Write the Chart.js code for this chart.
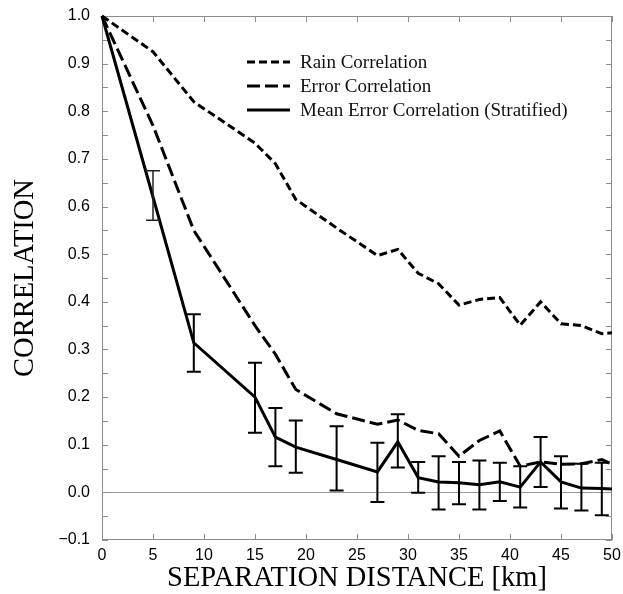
<!DOCTYPE html>
<html>
<head>
<meta charset="utf-8">
<script src="https://cdn.jsdelivr.net/npm/chart.js@4/dist/chart.umd.min.js"></script>
<style>
  html, body { margin: 0; padding: 0; background: #fff; }
  #wrap { width: 623px; height: 594px; }
</style>
</head>
<body>
<div id="wrap"><canvas id="c" width="623" height="594"></canvas></div>
<script>
// ---- data ----
const distances = [0, 5, 9, 15, 17, 19, 23, 27, 29, 31, 33, 35, 37, 39, 41, 43, 45, 47, 49, 50];
const rainCorrelation = [1.0, 0.925, 0.82, 0.733, 0.69, 0.615, 0.555, 0.497, 0.51, 0.46, 0.438, 0.393, 0.405, 0.409, 0.351, 0.40, 0.354, 0.35, 0.333, 0.335];
const errorCorrelation = [1.0, 0.77, 0.55, 0.35, 0.29, 0.216, 0.165, 0.143, 0.152, 0.130, 0.123, 0.076, 0.109, 0.129, 0.055, 0.064, 0.059, 0.060, 0.069, 0.059];
const meanErrorCorrelation = [1.0, 0.62, 0.314, 0.200, 0.116, 0.095, 0.069, 0.043, 0.106, 0.031, 0.022, 0.020, 0.016, 0.022, 0.011, 0.064, 0.022, 0.009, 0.008, 0.007];
const meanErrorLow = [null, 0.571, 0.253, 0.125, 0.055, 0.041, 0.004, -0.020, 0.052, -0.001, -0.036, -0.025, -0.036, -0.018, -0.032, 0.011, -0.034, -0.038, -0.048, null];
const meanErrorHigh = [null, 0.675, 0.374, 0.272, 0.177, 0.151, 0.139, 0.104, 0.164, 0.064, 0.076, 0.064, 0.067, 0.062, 0.055, 0.116, 0.076, 0.060, 0.062, null];
const seriesLabels = ['Rain Correlation', 'Error Correlation', 'Mean Error Correlation (Stratified)'];
const xTitle = 'SEPARATION DISTANCE [km]';
const yTitle = 'CORRELATION';

const SANS = "'Liberation Sans', Arial, Helvetica, sans-serif";
const SERIF = "'Liberation Serif', 'Times New Roman', Times, serif";
const FRAME = '#8c8c8c';

function pts(values) { return distances.map((d, i) => ({ x: d, y: values[i] })); }

// frame + inward ticks
const framePlugin = {
  id: 'frame',
  beforeDatasetsDraw(chart) {
    const { ctx, chartArea: a, scales } = chart;
    ctx.save();
    ctx.strokeStyle = FRAME;
    ctx.lineWidth = 1;
    ctx.strokeRect(a.left + 0.5, a.top + 0.5, a.right - a.left - 1, a.bottom - a.top - 1);
    const L = 6;
    ctx.beginPath();
    scales.x.ticks.forEach(t => {
      const px = Math.round(scales.x.getPixelForValue(t.value)) + 0.5;
      ctx.moveTo(px, a.bottom); ctx.lineTo(px, a.bottom - L);
      ctx.moveTo(px, a.top); ctx.lineTo(px, a.top + L);
    });
    const yt = scales.y.ticks.map(t => t.value);
    const yvals = [];
    yt.forEach((v, i) => { yvals.push(v); if (i < yt.length - 1) yvals.push((v + yt[i + 1]) / 2); });
    yvals.forEach(v => {
      const py = Math.round(scales.y.getPixelForValue(v)) + 0.5;
      ctx.moveTo(a.left, py); ctx.lineTo(a.left + L, py);
      ctx.moveTo(a.right, py); ctx.lineTo(a.right - L, py);
    });
    ctx.stroke();
    ctx.restore();
  }
};

// error bars on the mean series
const errorBarPlugin = {
  id: 'errorBars',
  afterDatasetsDraw(chart) {
    const { ctx, scales } = chart;
    ctx.save();
    distances.forEach((d, i) => {
      if (meanErrorLow[i] == null || meanErrorHigh[i] == null) return;
      const x = scales.x.getPixelForValue(d);
      const y1 = scales.y.getPixelForValue(meanErrorLow[i]);
      const y2 = scales.y.getPixelForValue(meanErrorHigh[i]);
      ctx.lineWidth = i === 1 ? 1.5 : 2;
      ctx.strokeStyle = i === 1 ? '#222' : '#000';
      const w = 7;
      ctx.beginPath();
      ctx.moveTo(x, y1); ctx.lineTo(x, y2);
      ctx.moveTo(x - w, y1); ctx.lineTo(x + w, y1);
      ctx.moveTo(x - w, y2); ctx.lineTo(x + w, y2);
      ctx.stroke();
    });
    ctx.restore();
  }
};

// legend inside plot area
const innerLegend = {
  id: 'innerLegend',
  afterDatasetsDraw(chart) {
    const { ctx } = chart;
    const x0 = 247, x1 = 290, tx = 300, y0 = 62, dy = 24;
    ctx.save();
    ctx.font = '19px ' + SERIF;
    ctx.textBaseline = 'middle';
    ctx.textAlign = 'left';
    chart.data.datasets.forEach((ds, i) => {
      const y = y0 + i * dy;
      ctx.strokeStyle = ds.borderColor;
      ctx.lineWidth = ds.borderWidth;
      ctx.setLineDash(ds.borderDash || []);
      ctx.beginPath();
      ctx.moveTo(x0, y); ctx.lineTo(x1, y);
      ctx.stroke();
      ctx.setLineDash([]);
      ctx.fillStyle = '#111';
      ctx.fillText(ds.label, tx, y + 1);
    });
    ctx.restore();
  }
};

new Chart(document.getElementById('c'), {
  type: 'line',
  data: {
    datasets: [
      { label: seriesLabels[0], data: pts(rainCorrelation), borderColor: '#000', borderWidth: 3, borderDash: [8, 4], pointRadius: 0, fill: false, tension: 0, clip: 4 },
      { label: seriesLabels[1], data: pts(errorCorrelation), borderColor: '#000', borderWidth: 3, borderDash: [13, 5], pointRadius: 0, fill: false, tension: 0, clip: 4 },
      { label: seriesLabels[2], data: pts(meanErrorCorrelation), borderColor: '#000', borderWidth: 3, pointRadius: 0, fill: false, tension: 0, clip: 4 }
    ]
  },
  options: {
    responsive: false,
    animation: false,
    devicePixelRatio: 1,
    layout: { padding: { top: 16, right: 11, left: 0, bottom: 0 } },
    plugins: { legend: { display: false }, tooltip: { enabled: false } },
    scales: {
      x: {
        type: 'linear', min: 0, max: 50,
        ticks: { stepSize: 5, color: '#000', padding: 6, maxRotation: 0, font: { family: SANS, size: 16 } },
        grid: { display: false, drawTicks: false },
        border: { display: false },
        title: { display: true, text: xTitle, color: '#000', padding: { top: 0, bottom: -2 }, font: { family: SERIF, size: 28.5 } },
        afterFit(s) { s.height = 54; s.paddingLeft = 0; s.paddingRight = 0; s.paddingTop = 0; s.paddingBottom = 0; }
      },
      y: {
        type: 'linear', min: -0.1, max: 1.0,
        ticks: {
          stepSize: 0.1, color: '#000', padding: 12, font: { family: SANS, size: 16 },
          callback: v => (v < 0 ? '\u2212' + Math.abs(v).toFixed(1) : v.toFixed(1))
        },
        grid: {
          drawTicks: false, lineWidth: 1,
          color: c => (c.tick && Math.abs(c.tick.value) < 1e-9 ? '#9a9a9a' : 'rgba(0,0,0,0)')
        },
        border: { display: false },
        title: { display: true, text: yTitle, color: '#000', padding: { top: 8, bottom: 0 }, font: { family: SERIF, size: 28.5 } },
        afterFit(s) { s.width = 102; s.paddingLeft = 0; s.paddingRight = 0; s.paddingTop = 0; s.paddingBottom = 0; }
      }
    }
  },
  plugins: [framePlugin, errorBarPlugin, innerLegend]
});
</script>
</body>
</html>
